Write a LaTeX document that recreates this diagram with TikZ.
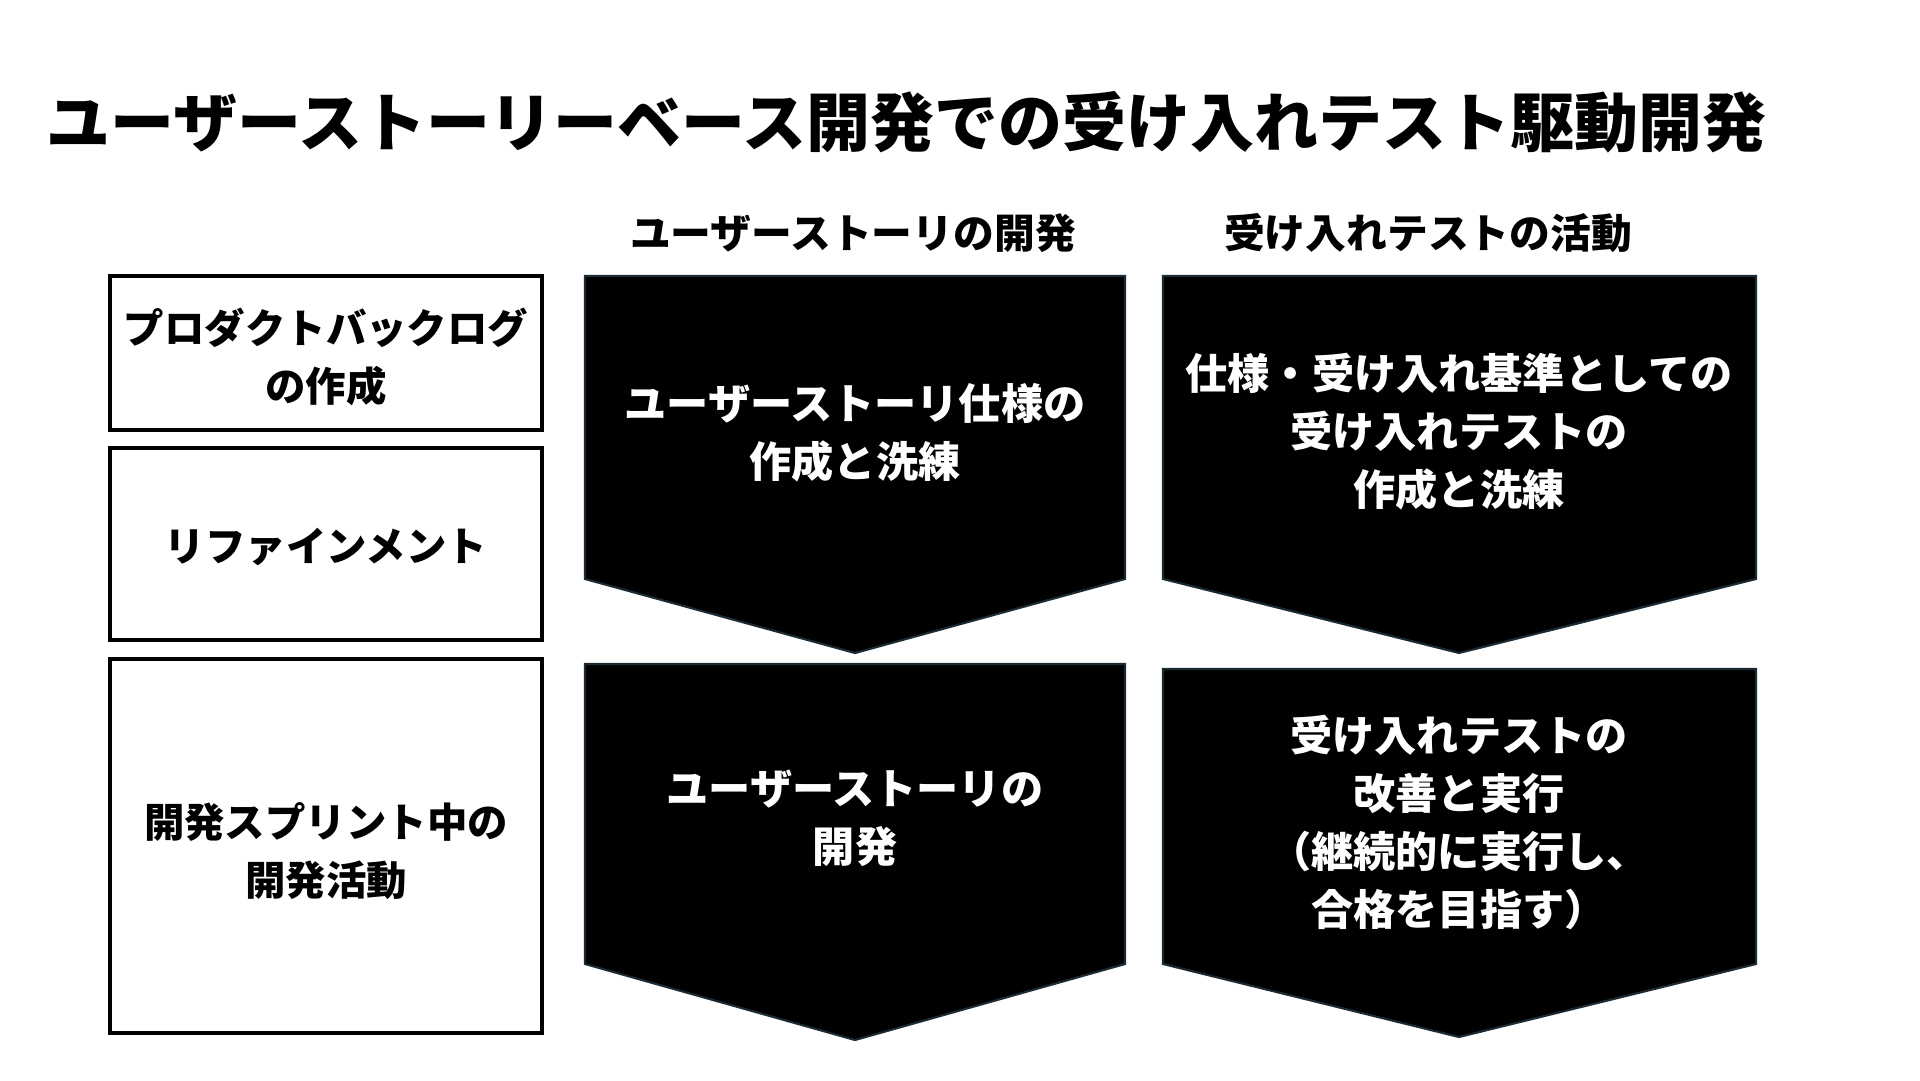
\documentclass[tikz,border=0pt]{standalone}
\usepackage{fontspec}
\setmainfont{Noto Sans CJK JP}
\usetikzlibrary{positioning}

\begin{document}
\begin{tikzpicture}[x=0.1mm, y=-0.1mm,
    rowbox/.style={draw=black, line width=0.9pt},
    flow/.style={fill=black, draw={rgb,255:red,28;green,42;blue,52}, line width=0.6pt},
    boxtext/.style={font=\fontsize{11.5}{16.5}\selectfont\bfseries, align=center, inner sep=0pt},
    flowtext/.style={font=\fontsize{12}{16.5}\selectfont\bfseries, align=center, text=white, inner sep=0pt},
    headtext/.style={font=\fontsize{11.6}{14}\selectfont\bfseries, inner sep=0pt}]
    \useasboundingbox (0,0) rectangle (1920,1080);

    % Title
    \node[font=\fontsize{18.2}{22}\selectfont\bfseries, anchor=west, inner sep=0pt] (title) at (46,122)
        {ユーザーストーリーベース開発での受け入れテスト駆動開発};

    % Column headings
    \node[headtext] (headstory) at (853,233) {ユーザーストーリの開発};
    \node[headtext] (headtest) at (1428,233) {受け入れテストの活動};

    % Left column: phases
    \draw[rowbox] (110,276) rectangle (542,430);
    \draw[rowbox] (110,448) rectangle (542,640);
    \draw[rowbox] (110,659) rectangle (542,1033);
    \node[boxtext] (backlog) at (326,357) {プロダクトバックログ\\の作成};
    \node[boxtext] (refine) at (326,547) {リファインメント};
    \node[boxtext] (sprint) at (326,851) {開発スプリント中の\\開発活動};

    % Top row arrows
    \draw[flow] (585,276) -- (1125,276) -- (1125,579) -- (855,653) -- (585,579) -- cycle;
    \draw[flow] (1163,276) -- (1756,276) -- (1756,579) -- (1459,653) -- (1163,579) -- cycle;
    \node[flowtext] (specstory) at (855,433) {ユーザーストーリ仕様の\\作成と洗練};
    \node[flowtext] (spectest) at (1459,432) {仕様・受け入れ基準としての\\受け入れテストの\\作成と洗練};

    % Bottom row arrows
    \draw[flow] (585,664) -- (1125,664) -- (1125,964) -- (855,1040) -- (585,964) -- cycle;
    \draw[flow] (1163,669) -- (1756,669) -- (1756,964) -- (1459,1037) -- (1163,964) -- cycle;
    \node[flowtext] (devstory) at (855,818) {ユーザーストーリの\\開発};
    \node[flowtext] (runtest) at (1459,822) {受け入れテストの\\改善と実行\\（継続的に実行し、\\合格を目指す）};
\end{tikzpicture}
\end{document}
